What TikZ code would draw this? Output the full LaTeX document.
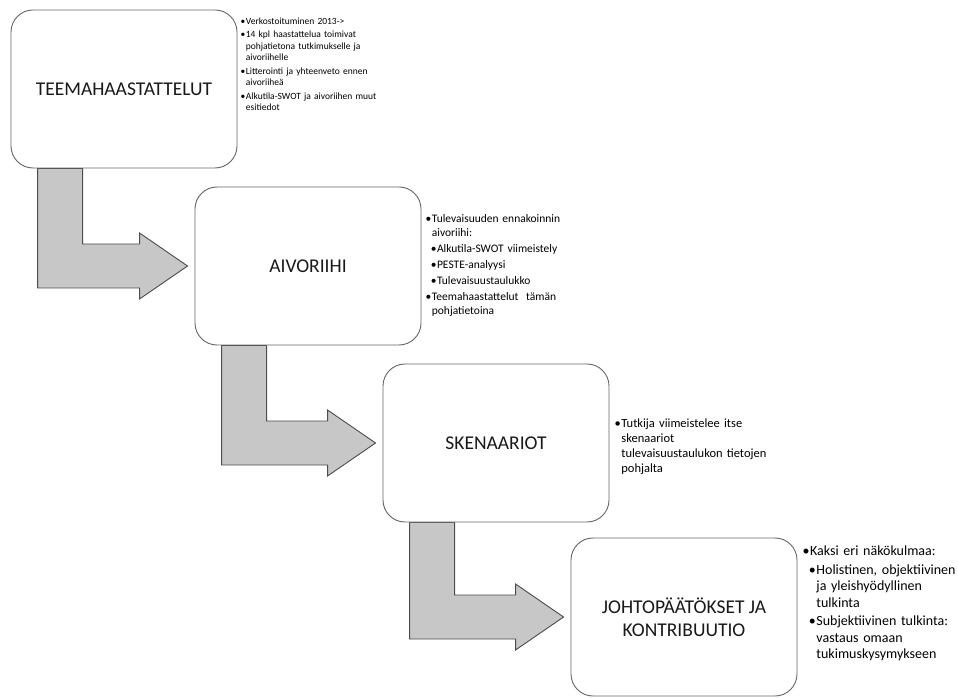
\documentclass[tikz,border=0pt]{standalone}
\usepackage{fontspec}
\setmainfont{Carlito}
\usetikzlibrary{calc,backgrounds}

% bullet lines with hanging indent
\newcommand{\itm}[1]{\par\vskip2pt\setbox0\hbox{\textbullet\hspace{0.5pt}}\hangindent=\wd0\hangafter=1\noindent\box0 #1\par}
\newcommand{\subitm}[1]{\par\vskip2pt\setbox0\hbox{\hspace*{0.45em}\textbullet\hspace{0.5pt}}\hangindent=\wd0\hangafter=1\noindent\box0 #1\par}

% bent block arrow from one step down to the next
\newcommand{\steparrow}[2]{%
  \filldraw[blockarrow] let \p1=(#1.south west), \p2=(#2.west) in
    ({\x1+27pt},\y1) -- ({\x1+72pt},\y1) -- ({\x1+72pt},{\y2+22pt}) -- ({\x2-55pt},{\y2+22pt})
    -- ({\x2-55pt},{\y2+33pt}) -- ({\x2-7pt},\y2) -- ({\x2-55pt},{\y2-33pt})
    -- ({\x2-55pt},{\y2-22pt}) -- ({\x1+27pt},{\y2-22pt}) -- cycle;}

\begin{document}
\begin{tikzpicture}[x=1pt, y=1pt,
	stepbox/.style={draw=black!60, line width=0.9pt, fill=white, rounded corners=22pt,
		minimum width=226pt, minimum height=158pt, align=center,
		font=\fontsize{19.5}{23}\selectfont, text=black!90},
	notes/.style={anchor=west, inner sep=0pt, align=left, text width=200pt},
	blockarrow/.style={fill=black!22, draw=black!70, line width=0.9pt}]
	\useasboundingbox (0,0) rectangle (958,697);

	\draw (124, 608) node[stepbox] (teema) {TEEMAHAASTATTELUT};
	\draw (308, 431) node[stepbox] (aivo) {AIVORIIHI};
	\draw (496, 254) node[stepbox] (skenaario) {SKENAARIOT};
	\draw (684, 80) node[stepbox] (johto) {JOHTOPÄÄTÖKSET JA\\KONTRIBUUTIO};

	\draw ($(teema.east)+(3,28)$) node[notes, font=\fontsize{9.5}{11.5}\selectfont] (teemanotes) {%
		\itm{Verkostoituminen 2013->}
		\itm{14 kpl haastattelua toimivat\newline pohjatietona tutkimukselle ja\newline aivoriihelle}
		\itm{Litterointi ja yhteenveto ennen\newline aivoriiheä}
		\itm{Alkutila-SWOT ja aivoriihen muut\newline esitiedot}};
	\draw ($(aivo.east)+(4,5)$) node[notes, font=\fontsize{11.5}{14}\selectfont] (aivonotes) {%
		\itm{Tulevaisuuden ennakoinnin\newline aivoriihi:}
		\subitm{Alkutila-SWOT viimeistely}
		\subitm{PESTE-analyysi}
		\subitm{Tulevaisuustaulukko}
		\itm{Teemahaastattelut\ \ tämän\newline pohjatietoina}};
	\draw ($(skenaario.east)+(5,0)$) node[notes, font=\fontsize{12.5}{15}\selectfont] (skenaarionotes) {%
		\itm{Tutkija viimeistelee itse\newline skenaariot\newline tulevaisuustaulukon tietojen\newline pohjalta}};
	\draw ($(johto.east)+(5,18)$) node[notes, font=\fontsize{14}{16.5}\selectfont] (johtonotes) {%
		\itm{Kaksi eri näkökulmaa:}
		\subitm{Holistinen, objektiivinen\newline ja yleishyödyllinen\newline tulkinta}
		\subitm{Subjektiivinen tulkinta:\newline vastaus omaan\newline tukimuskysymykseen}};

	\begin{scope}[on background layer]
		\steparrow{teema}{aivo}
		\steparrow{aivo}{skenaario}
		\steparrow{skenaario}{johto}
	\end{scope}
\end{tikzpicture}
\end{document}
